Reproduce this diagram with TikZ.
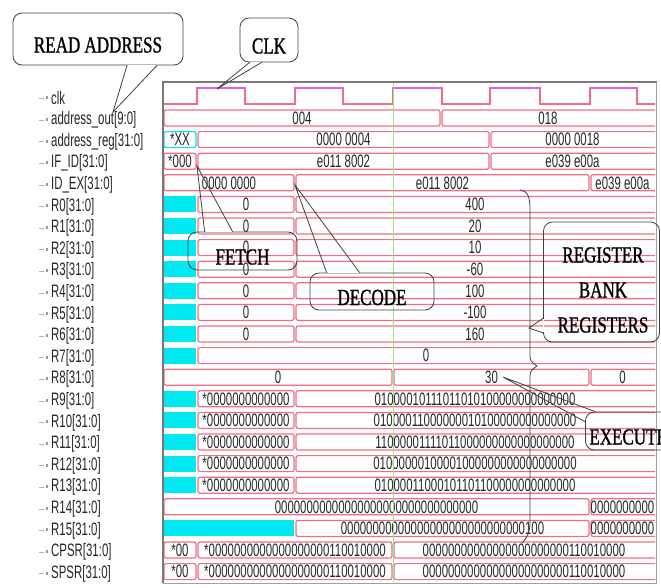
\documentclass[tikz,border=0pt]{standalone}
\usepackage{fontspec}
\usetikzlibrary{calc}
\newfontfamily\wavefont[FakeStretch=0.635]{Liberation Sans}
\newfontfamily\notefont[FakeStretch=0.74,FakeBold=1]{Liberation Serif}
\definecolor{trace}{RGB}{240,110,130}
\definecolor{clkhi}{RGB}{230,90,230}
\definecolor{xcyan}{RGB}{0,232,240}
\definecolor{cursorgreen}{RGB}{140,235,140}
\definecolor{framegray}{RGB}{120,120,120}
\tikzset{
  declare function={ry(\i)=96.4+21.6*\i;},
  segline/.style={draw=trace,line width=1.2pt,rounded corners=2pt},
  val/.style={font=\wavefont\fontsize{18}{18}\selectfont,inner sep=0pt,text=black!85},
  sig/.style={val,anchor=west},
  note/.style={draw=black!75,line width=0.8pt,rounded corners=9pt,font=\notefont\fontsize{23}{23}\selectfont,
    align=center,inner sep=0pt,text height=27pt,text depth=0pt},
  tail/.style={draw=black!75,line width=0.8pt},
  gap/.style={draw=white,line width=1.4pt},
}
% one bus value: row, from, to, text
\newcommand\wseg[4]{%
  \pgfmathsetmacro\xe{#3==655?666:#3-1}
  \draw[segline] (#2+1,{ry(#1)-8}) rectangle (\xe,{ry(#1)+8});
  \node[val] (v#1-#2) at ({(#2+#3)/2},{ry(#1)}) {#4};}
\begin{document}
\begin{tikzpicture}[x=1pt,y=-1pt]
  \useasboundingbox (0,0) rectangle (661,587);
  \clip (0,0) rectangle (661,587);
  % signal names
  \foreach \s [count=\i from 0] in {clk,address\_out[9:0],address\_reg[31:0],IF\_ID[31:0],ID\_EX[31:0],
      R0[31:0],R1[31:0],R2[31:0],R3[31:0],R4[31:0],R5[31:0],R6[31:0],R7[31:0],R8[31:0],R9[31:0],
      R10[31:0],R11[31:0],R12[31:0],R13[31:0],R14[31:0],R15[31:0],CPSR[31:0],SPSR[31:0]}{
    \draw[black!30,line width=0.6pt] (39,{ry(\i)+2}) -- (44,{ry(\i)+2});
    \fill[black!40] (45.5,{ry(\i)}) rectangle (47.5,{ry(\i)+3});
    \node[sig] (sig\i) at (51,{ry(\i)+2}) {\s};
  }
  % wave panel
  \draw[framegray,line width=1.8pt] (163,583) -- (163,82) -- (657,82);
  \draw[framegray!70,line width=0.8pt] (656,82) -- (656,583) -- (163,583);
  \begin{scope}
    \clip (164,83) rectangle (655,582);
    \foreach \r in {5,...,12,14,15,16,17,18}{
      \fill[xcyan] (164,{ry(\r)-8}) rectangle (196,{ry(\r)+8});
    }
    \fill[xcyan] (164,{ry(20)-8}) rectangle (294,{ry(20)+8});
    % clock
    \draw[trace,line width=1.2pt] (163,104) -| (197,88) -| (245,104) -| (295,88) -| (343,104)
      -| (393,88) -| (442,104) -| (490,88) -| (540,104) -| (590,88) -| (637,104) -- (660,104);
    \foreach \a/\b in {197/245,295/343,393/442,490/540,590/637}{
      \draw[clkhi,line width=1.2pt] (\a,88) -- (\b,88);
    }
    % buses
    \draw[segline,draw=xcyan] (164,{ry(2)-8}) rectangle (196,{ry(2)+8});
    \node[val] (v2-163) at (180,{ry(2)}) {*XX};
    \foreach \r/\a/\b/\t in {1/163/441/004,1/441/655/018,
        2/197/490/0000 0004,2/490/655/0000 0018,
        3/163/197/*000,3/197/490/e011 8002,3/490/655/e039 e00a,
        4/163/295/0000 0000,4/295/590/e011 8002,4/590/655/e039 e00a,
        5/295/655/400,6/295/655/20,7/295/655/10,8/295/655/-60,
        9/295/655/100,10/295/655/-100,11/295/655/160,
        12/197/655/0,
        13/163/393/0,13/393/590/30,13/590/655/0,
        14/295/655/01000010111011010100000000000000,
        15/295/655/01000011000000010100000000000000,
        16/295/655/11000001111011000000000000000000,
        17/295/655/01000000100001000000000000000000,
        18/295/655/01000011000101101100000000000000,
        19/163/590/00000000000000000000000000000000,19/590/655/0000000000,
        20/295/590/00000000000000000000000000000100,20/590/655/0000000000,
        21/163/197/*00,21/197/393/*0000000000000000000110010000,
        21/393/655/00000000000000000000000110010000,
        22/163/197/*00,22/197/393/*0000000000000000000110010000,
        22/393/655/00000000000000000000000110010000}{
      \wseg{\r}{\a}{\b}{\t}
    }
    \foreach \r in {5,...,11}{
      \wseg{\r}{197}{295}{0}
    }
    \foreach \r in {14,...,18}{
      \wseg{\r}{197}{295}{*0000000000000}
    }
    \draw[cursorgreen,line width=0.8pt] (393,83) -- (393,582);
  \end{scope}
  % brace over the register bank
  \draw[tail] (520,190) .. controls (528,191) and (530,197) .. (530,210) -- (530,352)
    .. controls (530,361) .. (537,366) .. controls (530,371) .. (530,380) -- (530,522)
    .. controls (530,532) and (527,538) .. (522,543);
  % callouts
  \node[note,minimum width=170pt,minimum height=52pt] (readaddr) at (98,39) {READ ADDRESS};
  \coordinate (readtip) at (113,112);
  \draw[gap] ($(readaddr.south)+(30,0)$) -- ($(readaddr.south)+(58,0)$);
  \draw[tail] ($(readaddr.south)+(29,0)$) -- (readtip) -- ($(readaddr.south)+(59,0)$);

  \node[note,minimum width=58pt,minimum height=44pt] (clknote) at (269,40) {CLK};
  \coordinate (clktip) at (217,89);
  \draw[gap] ($(clknote.south west)+(11,0)$) -- ($(clknote.south west)+(21,0)$);
  \draw[tail] ($(clknote.south west)+(10,0)$) -- (clktip) -- ($(clknote.south west)+(22,0)$);

  \node[note,minimum width=109pt,minimum height=38pt] (fetch) at (242.5,251) {FETCH};
  \coordinate (fetchtip) at (197,166);
  \draw[gap] ($(fetch.north west)+(18,0)$) -- ($(fetch.north west)+(44,0)$);
  \draw[tail] ($(fetch.north west)+(17,0)$) -- (fetchtip) -- ($(fetch.north west)+(45,0)$);

  \node[note,minimum width=124pt,minimum height=37pt] (decode) at (372,291.5) {DECODE};
  \coordinate (decodetip) at (295,185);
  \draw[gap] ($(decode.north west)+(18,0)$) -- ($(decode.north west)+(49,0)$);
  \draw[tail] ($(decode.north west)+(17,0)$) -- (decodetip) -- ($(decode.north west)+(50,0)$);

  \node[font=\notefont\fontsize{23}{35}\selectfont,align=center,inner sep=0pt]
    (regbank) at (603,290) {REGISTER\\BANK\\REGISTERS};
  \draw[tail,rounded corners=9pt] (543.5,222) rectangle (659.5,342);
  \coordinate (bankbase) at (543.5,342);
  \coordinate (banktip) at (529,328);
  \draw[gap] ($(bankbase)+(0,-23)$) -- ($(bankbase)+(0,-10)$);
  \draw[tail] ($(bankbase)+(0,-24)$) -- (banktip) -- ($(bankbase)+(0,-9)$);

  \node[note,anchor=west,minimum height=38pt,inner xsep=4pt] (execute) at (585,431) {EXECUTE};
  \coordinate (exectip) at (503,377);
  \draw[tail] ($(execute.north west)+(0,10)$) -- (exectip) -- ($(execute.north west)+(10,0)$);
\end{tikzpicture}
\end{document}
